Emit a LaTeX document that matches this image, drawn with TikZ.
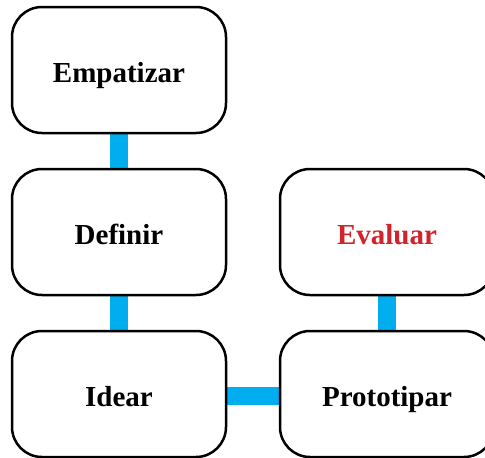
\documentclass[tikz,border=0pt]{standalone}
\usepackage{fontspec}
\setmainfont{Liberation Serif}
\usetikzlibrary{backgrounds}
\definecolor{linkblue}{HTML}{00AEEF}
\definecolor{evalred}{HTML}{D2232A}
\tikzset{
  stage/.style={draw=black, fill=white, line width=2.5pt, rounded corners=30pt,
    minimum width=214pt, minimum height=126pt, inner sep=0pt,
    text height=24pt, text depth=0pt,
    font=\fontsize{29pt}{32pt}\selectfont\bfseries},
  link/.style={draw=linkblue, line width=18pt}
}
\begin{document}
\begin{tikzpicture}[x=1pt, y=-1pt]
  \useasboundingbox (0,0) rectangle (485,458);
  \clip (0,0) rectangle (485,458);
  \node[stage] (emp) at (119,70)  {Empatizar};
  \node[stage] (def) at (119,232) {Definir};
  \node[stage] (ide) at (119,394) {Idear};
  \node[stage, text=evalred] (eva) at (387,232) {Evaluar};
  \node[stage] (pro) at (387,394) {Prototipar};
  \begin{scope}[on background layer]
    \draw[link] (emp) -- (def);
    \draw[link] (def) -- (ide);
    \draw[link] ([yshift=-2pt]ide.east) -- ([yshift=-2pt]pro.west);
    \draw[link] (eva) -- (pro);
  \end{scope}
\end{tikzpicture}
\end{document}
